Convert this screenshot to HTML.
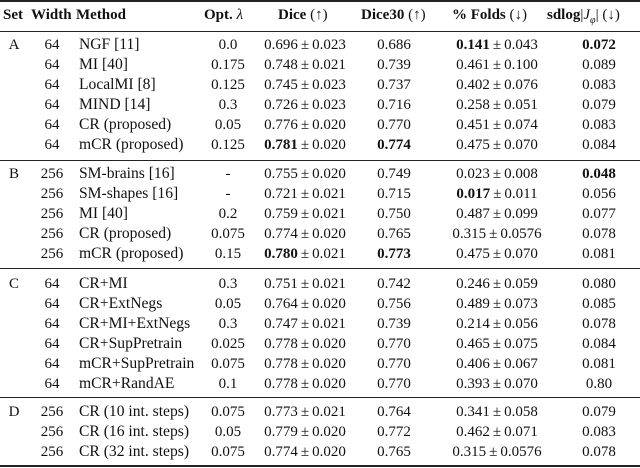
<!DOCTYPE html>
<html><head><meta charset="utf-8">
<style>
body{margin:0;width:640px;height:468px;background:#fff;position:relative;overflow:hidden;font-family:"Liberation Serif",serif;font-size:15px;color:#111}
.r{position:absolute;left:0;width:640px;height:20px;line-height:20px}
.r span{position:absolute;top:0;white-space:nowrap}
.r span.pm{position:static;margin:0 3px}
.s{left:3px;width:22px;text-align:center}
.w{left:34px;width:36px;text-align:center}
.m{left:79px;font-size:15.6px}
.o{left:198px;width:60px;text-align:center}
.d{left:240px;width:130px;text-align:center}
.d3{left:359px;width:70px;text-align:center}
.f{left:432px;width:130px;text-align:center}
.j{left:559px;width:80px;text-align:center}
.h{font-weight:bold}
.rule{position:absolute;left:0;width:640px;background:#222}
</style></head><body>
<div class="rule" style="top:0;height:2px"></div>
<div class="r h" style="top:5px">
<span style="left:3px">Set</span><span style="left:31px">Width</span><span style="left:76px">Method</span>
<span style="left:204px">Opt. <i style="font-weight:normal">λ</i></span>
<span style="left:278px">Dice <span style="position:static;font-weight:normal">(↑)</span></span>
<span style="left:361px">Dice30 <span style="position:static;font-weight:normal">(↑)</span></span>
<span style="left:452px">% Folds <span style="position:static;font-weight:normal">(↓)</span></span>
<span style="left:547px">sdlog<span style="position:static;font-weight:normal">|<i>J<sub style="font-size:10px">φ</sub></i>| (↓)</span></span>
</div>
<div class="rule" style="top:31px;height:1px"></div>

<div class="r" style="top:35px"><span class="s">A</span><span class="w">64</span><span class="m">NGF [11]</span><span class="o">0.0</span><span class="d">0.696<span class="pm">±</span>0.023</span><span class="d3">0.686</span><span class="f"><b>0.141</b><span class="pm">±</span>0.043</span><span class="j"><b>0.072</b></span></div>
<div class="r" style="top:55px"><span class="w">64</span><span class="m">MI [40]</span><span class="o">0.175</span><span class="d">0.748<span class="pm">±</span>0.021</span><span class="d3">0.739</span><span class="f">0.461<span class="pm">±</span>0.100</span><span class="j">0.089</span></div>
<div class="r" style="top:75px"><span class="w">64</span><span class="m">LocalMI [8]</span><span class="o">0.125</span><span class="d">0.745<span class="pm">±</span>0.023</span><span class="d3">0.737</span><span class="f">0.402<span class="pm">±</span>0.076</span><span class="j">0.083</span></div>
<div class="r" style="top:95px"><span class="w">64</span><span class="m">MIND [14]</span><span class="o">0.3</span><span class="d">0.726<span class="pm">±</span>0.023</span><span class="d3">0.716</span><span class="f">0.258<span class="pm">±</span>0.051</span><span class="j">0.079</span></div>
<div class="r" style="top:115px"><span class="w">64</span><span class="m">CR (proposed)</span><span class="o">0.05</span><span class="d">0.776<span class="pm">±</span>0.020</span><span class="d3">0.770</span><span class="f">0.451<span class="pm">±</span>0.074</span><span class="j">0.083</span></div>
<div class="r" style="top:135px"><span class="w">64</span><span class="m">mCR (proposed)</span><span class="o">0.125</span><span class="d"><b>0.781</b><span class="pm">±</span>0.020</span><span class="d3"><b>0.774</b></span><span class="f">0.475<span class="pm">±</span>0.070</span><span class="j">0.084</span></div>
<div class="rule" style="top:160px;height:1px"></div>

<div class="r" style="top:164px"><span class="s">B</span><span class="w">256</span><span class="m">SM-brains [16]</span><span class="o">-</span><span class="d">0.755<span class="pm">±</span>0.020</span><span class="d3">0.749</span><span class="f">0.023<span class="pm">±</span>0.008</span><span class="j"><b>0.048</b></span></div>
<div class="r" style="top:184px"><span class="w">256</span><span class="m">SM-shapes [16]</span><span class="o">-</span><span class="d">0.721<span class="pm">±</span>0.021</span><span class="d3">0.715</span><span class="f"><b>0.017</b><span class="pm">±</span>0.011</span><span class="j">0.056</span></div>
<div class="r" style="top:204px"><span class="w">256</span><span class="m">MI [40]</span><span class="o">0.2</span><span class="d">0.759<span class="pm">±</span>0.021</span><span class="d3">0.750</span><span class="f">0.487<span class="pm">±</span>0.099</span><span class="j">0.077</span></div>
<div class="r" style="top:224px"><span class="w">256</span><span class="m">CR (proposed)</span><span class="o">0.075</span><span class="d">0.774<span class="pm">±</span>0.020</span><span class="d3">0.765</span><span class="f">0.315<span class="pm">±</span>0.0576</span><span class="j">0.078</span></div>
<div class="r" style="top:244px"><span class="w">256</span><span class="m">mCR (proposed)</span><span class="o">0.15</span><span class="d"><b>0.780</b><span class="pm">±</span>0.021</span><span class="d3"><b>0.773</b></span><span class="f">0.475<span class="pm">±</span>0.070</span><span class="j">0.081</span></div>
<div class="rule" style="top:268px;height:1px"></div>

<div class="r" style="top:274px"><span class="s">C</span><span class="w">64</span><span class="m">CR+MI</span><span class="o">0.3</span><span class="d">0.751<span class="pm">±</span>0.021</span><span class="d3">0.742</span><span class="f">0.246<span class="pm">±</span>0.059</span><span class="j">0.080</span></div>
<div class="r" style="top:294px"><span class="w">64</span><span class="m">CR+ExtNegs</span><span class="o">0.05</span><span class="d">0.764<span class="pm">±</span>0.020</span><span class="d3">0.756</span><span class="f">0.489<span class="pm">±</span>0.073</span><span class="j">0.085</span></div>
<div class="r" style="top:314px"><span class="w">64</span><span class="m">CR+MI+ExtNegs</span><span class="o">0.3</span><span class="d">0.747<span class="pm">±</span>0.021</span><span class="d3">0.739</span><span class="f">0.214<span class="pm">±</span>0.056</span><span class="j">0.078</span></div>
<div class="r" style="top:334px"><span class="w">64</span><span class="m">CR+SupPretrain</span><span class="o">0.025</span><span class="d">0.778<span class="pm">±</span>0.020</span><span class="d3">0.770</span><span class="f">0.465<span class="pm">±</span>0.075</span><span class="j">0.084</span></div>
<div class="r" style="top:354px"><span class="w">64</span><span class="m">mCR+SupPretrain</span><span class="o">0.075</span><span class="d">0.778<span class="pm">±</span>0.020</span><span class="d3">0.770</span><span class="f">0.406<span class="pm">±</span>0.067</span><span class="j">0.081</span></div>
<div class="r" style="top:374px"><span class="w">64</span><span class="m">mCR+RandAE</span><span class="o">0.1</span><span class="d">0.778<span class="pm">±</span>0.020</span><span class="d3">0.770</span><span class="f">0.393<span class="pm">±</span>0.070</span><span class="j">0.80</span></div>
<div class="rule" style="top:397px;height:1px"></div>

<div class="r" style="top:402px"><span class="s">D</span><span class="w">256</span><span class="m">CR (10 int. steps)</span><span class="o">0.075</span><span class="d">0.773<span class="pm">±</span>0.021</span><span class="d3">0.764</span><span class="f">0.341<span class="pm">±</span>0.058</span><span class="j">0.079</span></div>
<div class="r" style="top:422px"><span class="w">256</span><span class="m">CR (16 int. steps)</span><span class="o">0.05</span><span class="d">0.779<span class="pm">±</span>0.020</span><span class="d3">0.772</span><span class="f">0.462<span class="pm">±</span>0.071</span><span class="j">0.083</span></div>
<div class="r" style="top:442px"><span class="w">256</span><span class="m">CR (32 int. steps)</span><span class="o">0.075</span><span class="d">0.774<span class="pm">±</span>0.020</span><span class="d3">0.765</span><span class="f">0.315<span class="pm">±</span>0.0576</span><span class="j">0.078</span></div>
<div class="rule" style="top:465px;height:2px"></div>
</body></html>
